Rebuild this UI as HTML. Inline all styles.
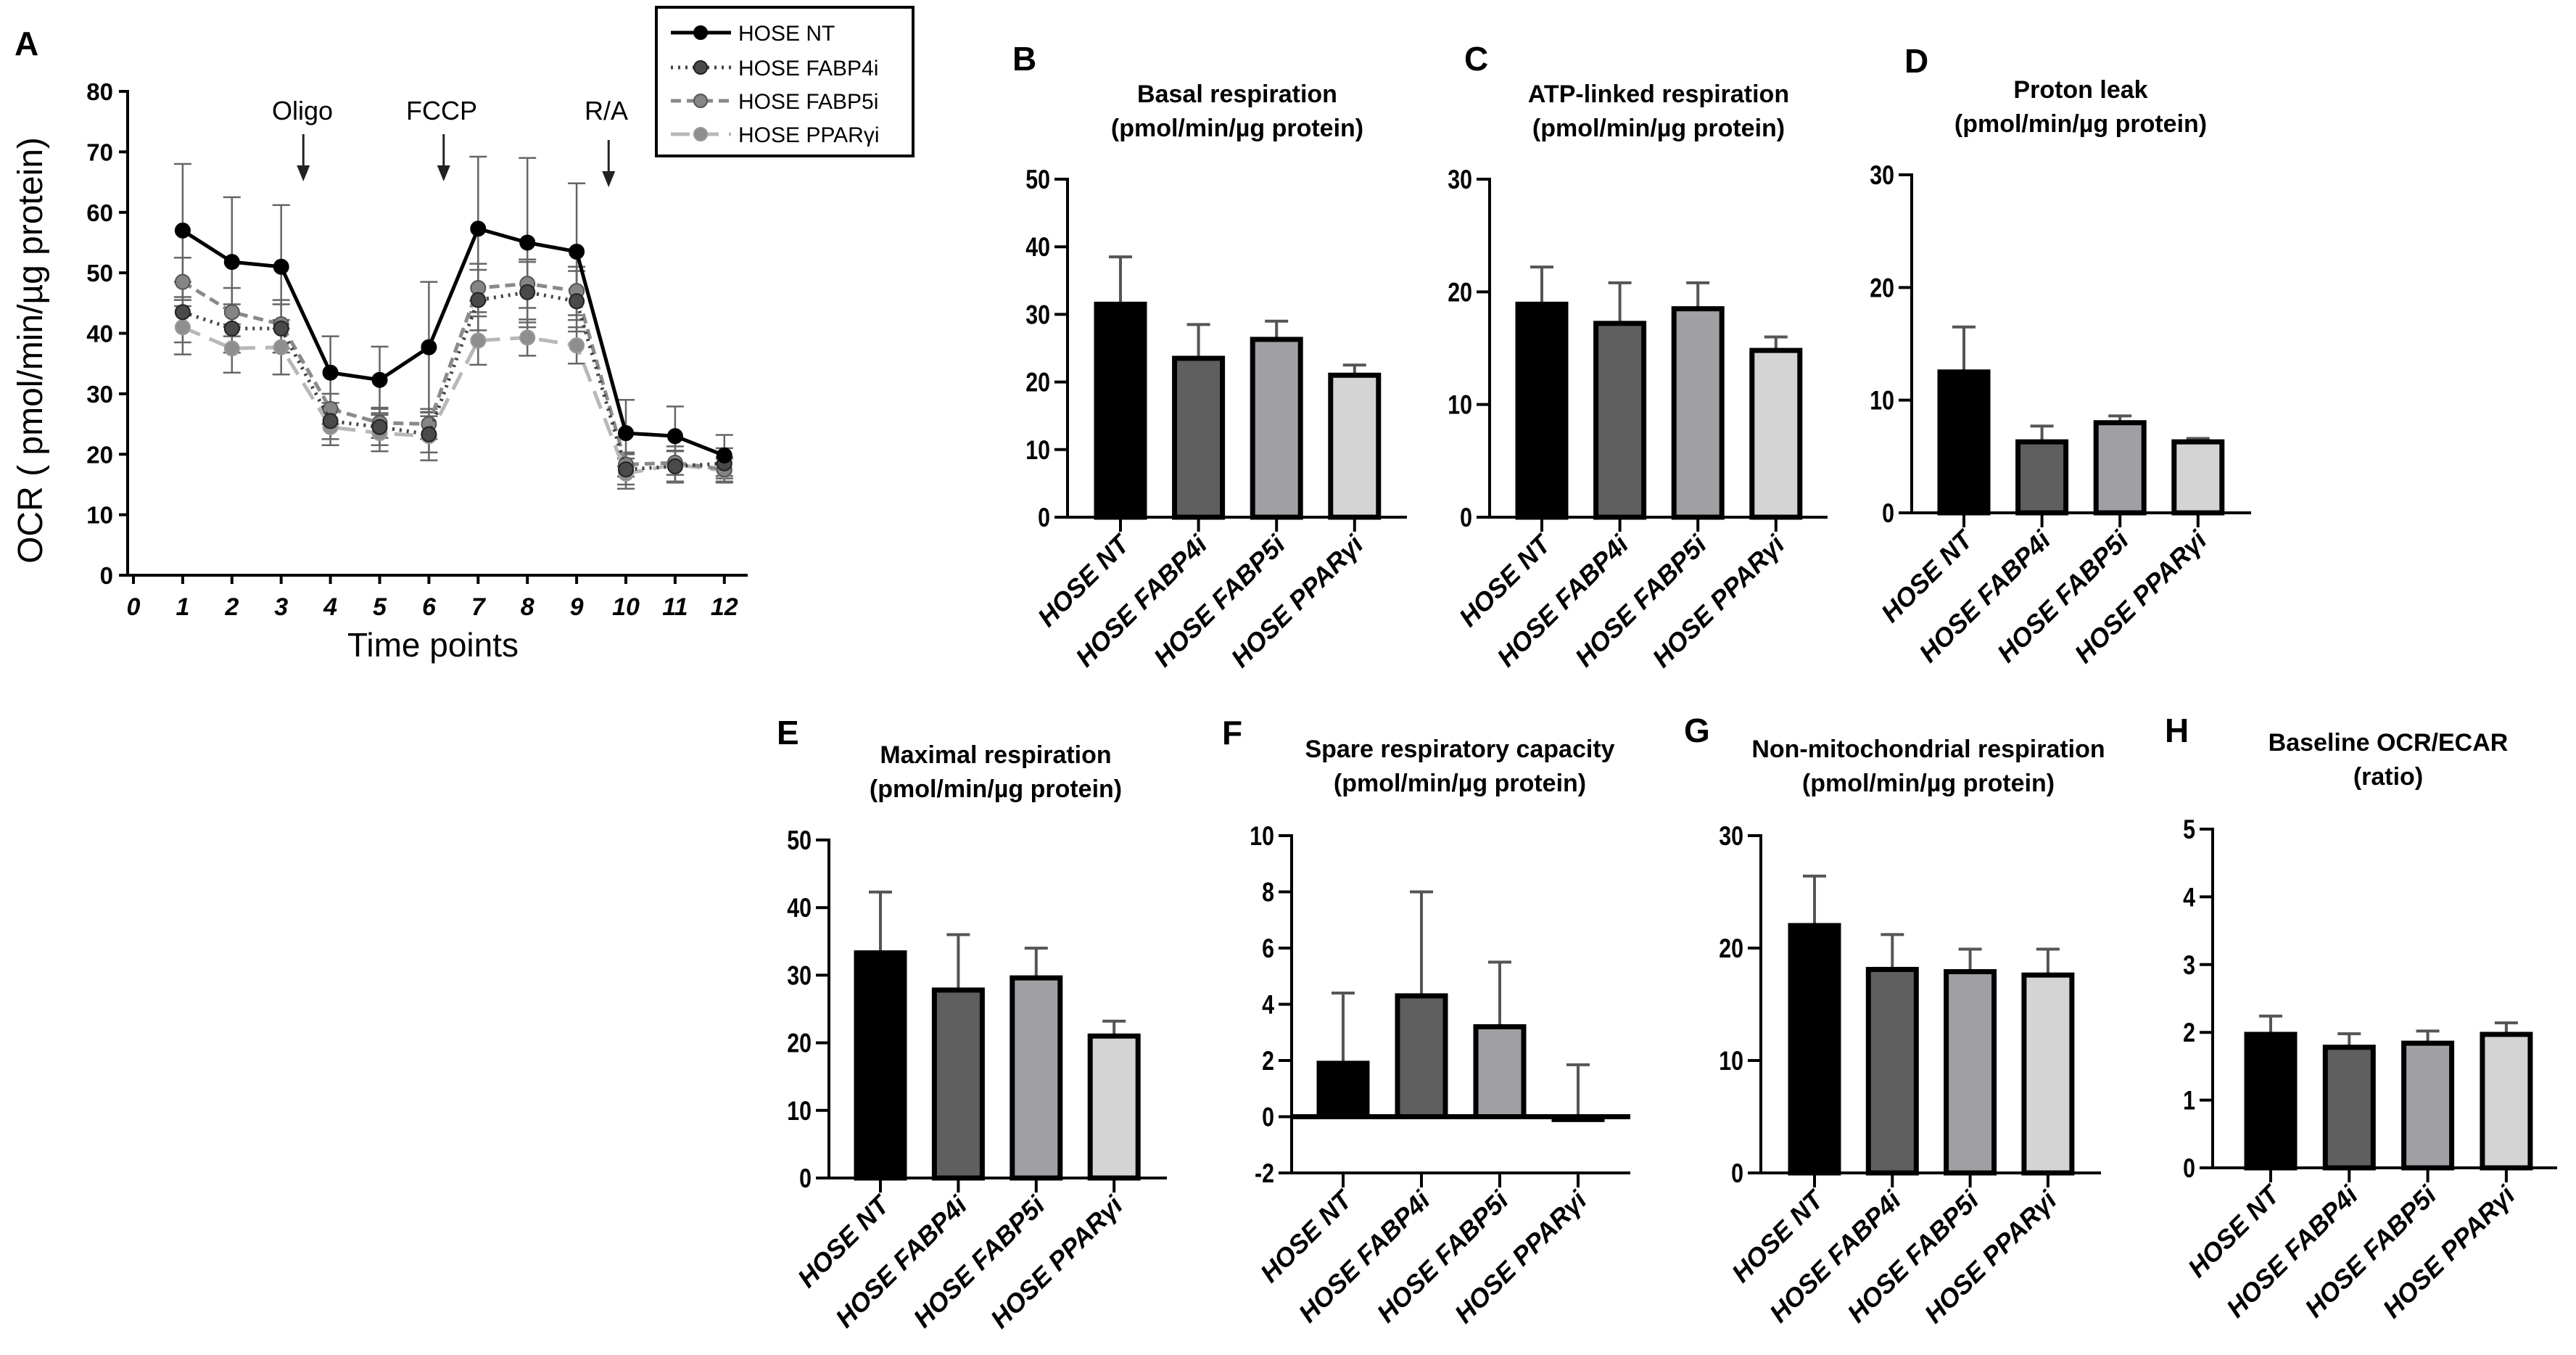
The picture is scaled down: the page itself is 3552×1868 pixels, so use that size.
<!DOCTYPE html>
<html><head><meta charset="utf-8"><style>
html,body{margin:0;padding:0;background:#fff;}
svg{display:block;font-family:"Liberation Sans",Arial,sans-serif;}
</style></head><body>
<svg id="fig" width="3552" height="1868" viewBox="0 0 3552 1868" xmlns="http://www.w3.org/2000/svg"></svg>
<script>
// ---------- Panel A data ----------
const timePoints=[1,2,3,4,5,6,7,8,9,10,11,12];
const xTickLabels=['0','1','2','3','4','5','6','7','8','9','10','11','12'];
const yTicksA=[0,10,20,30,40,50,60,70,80];
const ntMean=[57,51.8,51,33.5,32.3,37.7,57.3,55,53.5,23.5,23,19.8];
const ntErr=[11,10.7,10.2,6,5.5,10.8,11.9,14,11.3,5.5,4.9,3.4];
const f4Mean=[43.5,40.8,40.8,25.5,24.5,23.3,45.5,46.8,45.3,17.5,18,18.5];
const f4Err=[5,4,4,3,3,3,5,5,5,2.5,2.5,2.5];
const f5Mean=[48.5,43.5,41.5,27.5,25.2,25,47.5,48.2,47,18.3,18.6,17.5];
const f5Err=[4,4,4,2.5,2.5,2.5,4,4,4,2,2,2];
const ppMean=[41,37.5,37.7,24.5,23.5,23,38.8,39.3,38,16.8,18.3,17.3];
const ppErr=[4.5,4,4.5,3,3,4,4,3,3,2.5,3,2];
const seriesNames=['HOSE NT','HOSE FABP4i','HOSE FABP5i','HOSE PPARγi'];
// ---------- Bar panel data ----------
const groups=['HOSE NT','HOSE FABP4i','HOSE FABP5i','HOSE PPARγi'];
const basalMean=[31.5,23.5,26.3,21], basalErr=[7,5,2.7,1.5];
const atpMean=[18.9,17.2,18.5,14.8], atpErr=[3.3,3.6,2.3,1.2];
const leakMean=[12.5,6.3,8,6.3], leakErr=[4,1.4,0.6,0.3];
const maxMean=[33.3,27.8,29.6,21], maxErr=[9,8.2,4.4,2.2];
const spareMean=[1.9,4.3,3.2,-0.1], spareErr=[2.5,3.7,2.3,1.95];
const nonMitoMean=[22,18.1,17.9,17.6], nonMitoErr=[4.4,3.1,2,2.3];
const ratioMean=[1.97,1.78,1.84,1.97], ratioErr=[0.27,0.2,0.18,0.17];
const ticks50=[0,10,20,30,40,50], ticks30=[0,10,20,30], ticksSpare=[-2,0,2,4,6,8,10], ticks5=[0,1,2,3,4,5];

const NS='http://www.w3.org/2000/svg';
const svg=document.getElementById('fig');
function el(tag,attrs,parent,text){const e=document.createElementNS(NS,tag);for(const k in attrs)e.setAttribute(k,attrs[k]);if(text!==undefined)e.textContent=text;(parent||svg).appendChild(e);return e;}

// ================= Panel A =================
const gA=el('g',{});


const A={ax:176,x0:184,step:67.9,y0:793,ytop:126,vmax:80,axEnd:1031};
const xA=t=>A.x0+t*A.step;
const yA=v=>A.y0-(v/A.vmax)*(A.y0-A.ytop);
let t=el('text',{x:20,y:76,'font-size':46,'font-weight':'bold'},gA,'A');

el('line',{x1:A.ax,y1:A.ytop-2,x2:A.ax,y2:A.y0,stroke:'#000','stroke-width':4},gA);
el('line',{x1:A.ax-2,y1:A.y0,x2:A.axEnd,y2:A.y0,stroke:'#000','stroke-width':4},gA);
yTicksA.forEach(v=>{
  el('line',{x1:A.ax-12,y1:yA(v),x2:A.ax,y2:yA(v),stroke:'#000','stroke-width':4},gA);
  const tt=el('text',{x:A.ax-20,y:yA(v)+12,'font-size':33,'font-weight':'bold','text-anchor':'end'},gA,String(v));
  
});
xTickLabels.forEach((lab,i)=>{
  el('line',{x1:xA(i),y1:A.y0,x2:xA(i),y2:A.y0+12,stroke:'#000','stroke-width':4},gA);
  const tt=el('text',{x:xA(i),y:848,'font-size':34,'font-weight':'bold','font-style':'italic','text-anchor':'middle'},gA,lab);
  
});
t=el('text',{x:597,y:905,'font-size':46,'text-anchor':'middle'},gA,'Time points');

t=el('text',{x:0,y:0,'font-size':48,'text-anchor':'middle',transform:'translate(58,483) rotate(-90)'},gA,'OCR ( pmol/min/µg protein)');

// injection arrows
[['Oligo',417,3.45],['FCCP',609,6.3],['R/A',836,9.65]].forEach(([lab,cx,pt])=>{
  const tt=el('text',{x:cx,y:165,'font-size':36,'text-anchor':'middle'},gA,lab);
  
  const ax=xA(pt);
  const o=(lab==='R/A'?8:0);
  el('line',{x1:ax,y1:185+o,x2:ax,y2:232+o,stroke:'#222','stroke-width':3},gA);
  el('polygon',{points:`${ax-9},${228+o} ${ax+9},${228+o} ${ax},${250+o}`,fill:'#222'},gA);
});
const seriesA=[
  {name:'nt',m:ntMean,e:ntErr,stroke:'#000',dash:'',fill:'#000',ms:'#000',w:5},
  {name:'fabp4i',m:f4Mean,e:f4Err,stroke:'#444',dash:'3,7',fill:'#4a4a4a',ms:'#222',w:5},
  {name:'fabp5i',m:f5Mean,e:f5Err,stroke:'#8a8a8a',dash:'14,8',fill:'#858585',ms:'#555',w:5},
  {name:'ppargi',m:ppMean,e:ppErr,stroke:'#b8b8b8',dash:'26,14',fill:'#8e8e8e',ms:'#999',w:5}
];
seriesA.slice().reverse().forEach(s=>{
  s.m.forEach((v,i)=>{
    const x=xA(timePoints[i]);
    const eb=el('path',{d:`M${x},${yA(v-s.e[i])}V${yA(v+s.e[i])}M${x-12},${yA(v+s.e[i])}H${x+12}M${x-12},${yA(v-s.e[i])}H${x+12}`,stroke:'#666','stroke-width':2.5,fill:'none'},gA);
    
  });
});
seriesA.slice().reverse().forEach(s=>{
  const d=s.m.map((v,i)=>(i?'L':'M')+xA(timePoints[i])+','+yA(v)).join('');
  const ln=el('path',{d,stroke:s.stroke,'stroke-width':s.w,fill:'none','stroke-dasharray':s.dash},gA);
  
  s.m.forEach((v,i)=>{
    const c=el('circle',{cx:xA(timePoints[i]),cy:yA(v),r:10,fill:s.fill,stroke:s.ms,'stroke-width':2},gA);
    
  });
});
const lg=el('g',{},gA);

el('rect',{x:905,y:10,width:354,height:205,fill:'#fff',stroke:'#000','stroke-width':4},lg);
[45,93,139,185].forEach((ly,i)=>{
  const s=seriesA[i];
  const en=el('g',{},lg);
  
  el('line',{x1:925,y1:ly,x2:1008,y2:ly,stroke:s.stroke,'stroke-width':5,'stroke-dasharray':s.dash},en);
  el('circle',{cx:966,cy:ly,r:9,fill:s.fill,stroke:s.ms,'stroke-width':2},en);
  el('text',{x:1018,y:ly+11,'font-size':30},en,seriesNames[i]);
});

// ================= Bar panels =================
const barFill=['#000','#5f5f5f','#a0a0a4','#d4d4d4'];
function barPanel(cfg,means,errs,ticks){
  const g=el('g',{});
  
  
  const vmin=ticks[0],vmax=ticks[ticks.length-1];
  const y=v=>cfg.yb-(v-vmin)/(vmax-vmin)*(cfg.yb-cfg.yt);
  let tt=el('text',{x:cfg.lx,y:cfg.ly,'font-size':46,'font-weight':'bold'},g,cfg.letter);
  
  tt=el('text',{x:cfg.tx,y:cfg.t1y,'font-size':34,'font-weight':'bold','text-anchor':'middle'},g,cfg.title1);
  
  tt=el('text',{x:cfg.tx,y:cfg.t1y+47,'font-size':34,'font-weight':'bold','text-anchor':'middle'},g,cfg.title2);
  
  el('line',{x1:cfg.ax,y1:cfg.yt-2,x2:cfg.ax,y2:cfg.yb+2,stroke:'#000','stroke-width':4},g);
  el('line',{x1:cfg.ax-2,y1:cfg.yb,x2:cfg.end,y2:cfg.yb,stroke:'#000','stroke-width':4},g);
  ticks.forEach(v=>{
    el('line',{x1:cfg.ax-18,y1:y(v),x2:cfg.ax,y2:y(v),stroke:'#000','stroke-width':4},g);
    const tl=el('text',{x:cfg.ax-24,y:y(v)+13,'font-size':37,'font-weight':'bold','text-anchor':'end',transform:`translate(${cfg.ax-24},0) scale(0.82,1) translate(${-(cfg.ax-24)},0)`},g,String(v));
    
  });
  means.forEach((m,i)=>{
    const cx=cfg.b0+i*cfg.step;
    const top=y(m+errs[i]);
    const eb=el('path',{d:`M${cx},${y(m)}V${top}M${cx-16},${top}H${cx+16}`,stroke:'#555','stroke-width':4,fill:'none'},g);
    
  });
  means.forEach((m,i)=>{
    const cx=cfg.b0+i*cfg.step;
    const y0=y(0),yv=y(m);
    const b=el('rect',{x:cx-33,y:Math.min(y0,yv),width:66,height:Math.max(Math.abs(y0-yv),1),fill:barFill[i],stroke:'#000','stroke-width':7},g);
    
  });
  if(vmin<0){
    el('line',{x1:cfg.ax,y1:y(0),x2:cfg.end,y2:y(0),stroke:'#000','stroke-width':7},g);
  }
  groups.forEach((gname,i)=>{
    const cx=cfg.b0+i*cfg.step;
    el('line',{x1:cx,y1:cfg.yb,x2:cx,y2:cfg.yb+20,stroke:'#000','stroke-width':4},g);
    const lab=el('text',{x:0,y:0,'font-size':36,'font-weight':'bold','font-style':'italic','text-anchor':'end',transform:`translate(${cx+14},${cfg.yb+40}) rotate(-45)`},g,gname);
    
  });
}
barPanel({name:'panel-b-basal-respiration',letter:'B',lx:1396,ly:97,title1:'Basal respiration',title2:'(pmol/min/µg protein)',tx:1706,t1y:141,ax:1472,yt:247,yb:713,b0:1545,step:107.6,end:1940},basalMean,basalErr,ticks50);
barPanel({name:'panel-c-atp-linked-respiration',letter:'C',lx:2019,ly:97,title1:'ATP-linked respiration',title2:'(pmol/min/µg protein)',tx:2287,t1y:141,ax:2054,yt:247,yb:713,b0:2126,step:107.6,end:2520},atpMean,atpErr,ticks30);
barPanel({name:'panel-d-proton-leak',letter:'D',lx:2626,ly:100,title1:'Proton leak',title2:'(pmol/min/µg protein)',tx:2869,t1y:135,ax:2636,yt:241,yb:707,b0:2708,step:107.6,end:3104},leakMean,leakErr,ticks30);
barPanel({name:'panel-e-maximal-respiration',letter:'E',lx:1071,ly:1026,title1:'Maximal respiration',title2:'(pmol/min/µg protein)',tx:1373,t1y:1052,ax:1143,yt:1158,yb:1624,b0:1214,step:107.4,end:1609},maxMean,maxErr,ticks50);
barPanel({name:'panel-f-spare-respiratory-capacity',letter:'F',lx:1685,ly:1026,title1:'Spare respiratory capacity',title2:'(pmol/min/µg protein)',tx:2013,t1y:1044,ax:1781,yt:1152,yb:1617,b0:1852,step:108,end:2248},spareMean,spareErr,ticksSpare);
barPanel({name:'panel-g-non-mitochondrial-respiration',letter:'G',lx:2322,ly:1023,title1:'Non-mitochondrial respiration',title2:'(pmol/min/µg protein)',tx:2659,t1y:1044,ax:2428,yt:1152,yb:1617,b0:2502,step:107.3,end:2897},nonMitoMean,nonMitoErr,ticks30);
barPanel({name:'panel-h-baseline-ocr-ecar',letter:'H',lx:2985,ly:1023,title1:'Baseline OCR/ECAR',title2:'(ratio)',tx:3293,t1y:1035,ax:3051,yt:1143,yb:1610,b0:3131,step:108.3,end:3526},ratioMean,ratioErr,ticks5);
</script>
</body></html>
